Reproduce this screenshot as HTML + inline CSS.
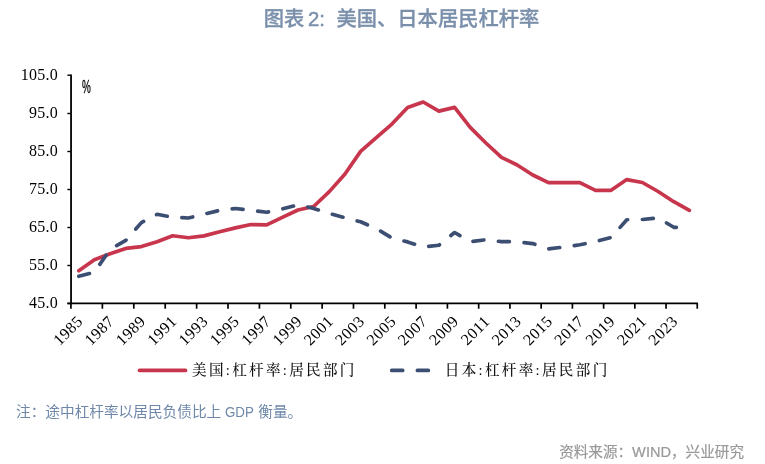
<!DOCTYPE html>
<html lang="zh"><head><meta charset="utf-8"><title>图表 2</title>
<style>
html,body{margin:0;padding:0;background:#fff;}
body{width:765px;height:464px;position:relative;overflow:hidden;font-family:"Liberation Sans","Noto Sans CJK SC",sans-serif;}
#title{position:absolute;left:0;top:5px;width:803px;text-align:center;font-weight:500;font-size:20.3px;line-height:28px;color:#7a8fab;white-space:nowrap;word-spacing:2px;-webkit-text-stroke:0.3px #7a8fab;}
#title .n2{margin-left:-4px;margin-right:4px;-webkit-text-stroke:0.5px #7a8fab;}
#note{position:absolute;left:16px;top:400px;font-size:14.67px;line-height:24px;color:#6f88a9;white-space:nowrap;}
#note .g{display:inline-block;transform:scaleX(0.91);transform-origin:left center;margin-right:-2.86px;}
#src{position:absolute;right:21px;top:439.7px;font-size:14.6px;-webkit-text-stroke:0.2px #999;line-height:24px;color:#999;white-space:nowrap;}
svg{position:absolute;left:0;top:0;}
.ax{font-family:"Liberation Serif",serif;font-size:16px;fill:#000;}
.pct{font-family:"Liberation Sans",sans-serif;font-size:17.5px;fill:#000;stroke:#000;stroke-width:0.3px;}
.lg{font-family:"Liberation Serif","Noto Serif CJK SC",serif;font-size:14.6px;font-weight:500;fill:#111;letter-spacing:2.3px;}
</style></head><body>
<div id="title">图表<span class="n2"> 2:</span> 美国、日本居民杠杆率</div>
<svg width="765" height="464" viewBox="0 0 765 464">
<line x1="71.05" y1="74.4" x2="71.05" y2="304.3" stroke="#000" stroke-width="1.8"/>
<line x1="67.4" y1="303.3" x2="698" y2="303.3" stroke="#000" stroke-width="1.7"/>
<line x1="67.4" y1="75.2" x2="71" y2="75.2" stroke="#000" stroke-width="1.4"/>
<text x="57.9" y="79.9" text-anchor="end" class="ax" letter-spacing="0.25">105.0</text>
<line x1="67.4" y1="113.5" x2="71" y2="113.5" stroke="#000" stroke-width="1.4"/>
<text x="57.9" y="118.2" text-anchor="end" class="ax" letter-spacing="0.25">95.0</text>
<line x1="67.4" y1="151.5" x2="71" y2="151.5" stroke="#000" stroke-width="1.4"/>
<text x="57.9" y="156.2" text-anchor="end" class="ax" letter-spacing="0.25">85.0</text>
<line x1="67.4" y1="189.5" x2="71" y2="189.5" stroke="#000" stroke-width="1.4"/>
<text x="57.9" y="194.2" text-anchor="end" class="ax" letter-spacing="0.25">75.0</text>
<line x1="67.4" y1="227.5" x2="71" y2="227.5" stroke="#000" stroke-width="1.4"/>
<text x="57.9" y="232.2" text-anchor="end" class="ax" letter-spacing="0.25">65.0</text>
<line x1="67.4" y1="265.5" x2="71" y2="265.5" stroke="#000" stroke-width="1.4"/>
<text x="57.9" y="270.2" text-anchor="end" class="ax" letter-spacing="0.25">55.0</text>
<line x1="67.4" y1="303.5" x2="71" y2="303.5" stroke="#000" stroke-width="1.4"/>
<text x="57.9" y="308.2" text-anchor="end" class="ax" letter-spacing="0.25">45.0</text>
<line x1="70.95" y1="303.5" x2="70.95" y2="308.7" stroke="#000" stroke-width="1.7"/>
<line x1="102.37" y1="303.5" x2="102.37" y2="308.7" stroke="#000" stroke-width="1.7"/>
<line x1="133.80" y1="303.5" x2="133.80" y2="308.7" stroke="#000" stroke-width="1.7"/>
<line x1="165.21" y1="303.5" x2="165.21" y2="308.7" stroke="#000" stroke-width="1.7"/>
<line x1="196.62" y1="303.5" x2="196.62" y2="308.7" stroke="#000" stroke-width="1.7"/>
<line x1="228.02" y1="303.5" x2="228.02" y2="308.7" stroke="#000" stroke-width="1.7"/>
<line x1="259.41" y1="303.5" x2="259.41" y2="308.7" stroke="#000" stroke-width="1.7"/>
<line x1="290.78" y1="303.5" x2="290.78" y2="308.7" stroke="#000" stroke-width="1.7"/>
<line x1="322.14" y1="303.5" x2="322.14" y2="308.7" stroke="#000" stroke-width="1.7"/>
<line x1="353.48" y1="303.5" x2="353.48" y2="308.7" stroke="#000" stroke-width="1.7"/>
<line x1="384.80" y1="303.5" x2="384.80" y2="308.7" stroke="#000" stroke-width="1.7"/>
<line x1="416.11" y1="303.5" x2="416.11" y2="308.7" stroke="#000" stroke-width="1.7"/>
<line x1="447.40" y1="303.5" x2="447.40" y2="308.7" stroke="#000" stroke-width="1.7"/>
<line x1="478.67" y1="303.5" x2="478.67" y2="308.7" stroke="#000" stroke-width="1.7"/>
<line x1="509.93" y1="303.5" x2="509.93" y2="308.7" stroke="#000" stroke-width="1.7"/>
<line x1="541.17" y1="303.5" x2="541.17" y2="308.7" stroke="#000" stroke-width="1.7"/>
<line x1="572.40" y1="303.5" x2="572.40" y2="308.7" stroke="#000" stroke-width="1.7"/>
<line x1="603.62" y1="303.5" x2="603.62" y2="308.7" stroke="#000" stroke-width="1.7"/>
<line x1="634.84" y1="303.5" x2="634.84" y2="308.7" stroke="#000" stroke-width="1.7"/>
<line x1="666.04" y1="303.5" x2="666.04" y2="308.7" stroke="#000" stroke-width="1.7"/>
<line x1="697.25" y1="303.5" x2="697.25" y2="308.7" stroke="#000" stroke-width="1.7"/>
<text transform="translate(83.78,322.3) rotate(-45)" text-anchor="end" class="ax" letter-spacing="0.5">1985</text>
<text transform="translate(115.09,322.3) rotate(-45)" text-anchor="end" class="ax" letter-spacing="0.5">1987</text>
<text transform="translate(146.41,322.3) rotate(-45)" text-anchor="end" class="ax" letter-spacing="0.5">1989</text>
<text transform="translate(177.72,322.3) rotate(-45)" text-anchor="end" class="ax" letter-spacing="0.5">1991</text>
<text transform="translate(209.04,322.3) rotate(-45)" text-anchor="end" class="ax" letter-spacing="0.5">1993</text>
<text transform="translate(240.35,322.3) rotate(-45)" text-anchor="end" class="ax" letter-spacing="0.5">1995</text>
<text transform="translate(271.67,322.3) rotate(-45)" text-anchor="end" class="ax" letter-spacing="0.5">1997</text>
<text transform="translate(302.98,322.3) rotate(-45)" text-anchor="end" class="ax" letter-spacing="0.5">1999</text>
<text transform="translate(334.30,322.3) rotate(-45)" text-anchor="end" class="ax" letter-spacing="0.5">2001</text>
<text transform="translate(365.61,322.3) rotate(-45)" text-anchor="end" class="ax" letter-spacing="0.5">2003</text>
<text transform="translate(396.93,322.3) rotate(-45)" text-anchor="end" class="ax" letter-spacing="0.5">2005</text>
<text transform="translate(428.24,322.3) rotate(-45)" text-anchor="end" class="ax" letter-spacing="0.5">2007</text>
<text transform="translate(459.56,322.3) rotate(-45)" text-anchor="end" class="ax" letter-spacing="0.5">2009</text>
<text transform="translate(490.87,322.3) rotate(-45)" text-anchor="end" class="ax" letter-spacing="0.5">2011</text>
<text transform="translate(522.19,322.3) rotate(-45)" text-anchor="end" class="ax" letter-spacing="0.5">2013</text>
<text transform="translate(553.50,322.3) rotate(-45)" text-anchor="end" class="ax" letter-spacing="0.5">2015</text>
<text transform="translate(584.82,322.3) rotate(-45)" text-anchor="end" class="ax" letter-spacing="0.5">2017</text>
<text transform="translate(616.13,322.3) rotate(-45)" text-anchor="end" class="ax" letter-spacing="0.5">2019</text>
<text transform="translate(647.45,322.3) rotate(-45)" text-anchor="end" class="ax" letter-spacing="0.5">2021</text>
<text transform="translate(678.76,322.3) rotate(-45)" text-anchor="end" class="ax" letter-spacing="0.5">2023</text>
<text x="82" y="93" class="pct" textLength="8.8" lengthAdjust="spacingAndGlyphs">%</text>
<polyline points="78.8,270.8 94.4,259.7 110.1,253.7 125.8,248.4 141.4,246.6 157.1,241.7 172.7,235.8 188.4,237.8 204.0,235.9 219.7,231.8 235.4,227.9 251.0,224.5 266.7,224.9 282.3,217.4 298.0,210.0 313.6,206.5 329.3,191.6 345.0,174.0 360.6,151.4 376.3,137.7 391.9,124.1 407.6,107.4 423.2,102.0 438.9,111.1 454.6,107.4 470.2,127.4 485.9,143.0 501.5,157.4 517.2,165.0 532.8,175.0 548.5,182.6 564.2,182.7 579.8,182.7 595.5,190.3 611.1,190.3 626.8,179.6 642.4,182.5 658.1,191.5 673.8,201.7 689.4,210.4" fill="none" stroke="#c7364c" stroke-width="3.67" stroke-linecap="round" stroke-linejoin="round"/>
<polyline points="78.8,276.3 94.4,272.2 110.1,249.4 125.8,240.4 141.4,222.6 157.1,214.3 172.7,217.3 188.4,218.0 204.0,214.1 219.7,210.4 235.4,208.5 251.0,210.3 266.7,212.3 282.3,209.0 298.0,204.8 313.6,208.4 329.3,213.5 345.0,217.8 360.6,221.8 376.3,228.6 391.9,238.0 407.6,241.9 423.2,247.0 438.9,245.2 454.6,232.5 470.2,241.7 485.9,239.7 501.5,241.6 517.2,241.8 532.8,243.6 548.5,248.9 564.2,247.0 579.8,244.8 595.5,241.6 611.1,237.5 626.8,219.8 642.4,219.5 658.1,217.9 673.8,227.3 689.4,228.0" fill="none" stroke="#3c4f73" stroke-width="3.67" stroke-linecap="round" stroke-linejoin="round" stroke-dasharray="11 14.67"/>
<line x1="139.5" y1="370.4" x2="185.5" y2="370.4" stroke="#c7364c" stroke-width="3.67" stroke-linecap="round"/>
<line x1="391.7" y1="370.4" x2="430" y2="370.4" stroke="#3c4f73" stroke-width="3.67" stroke-linecap="round" stroke-dasharray="11 14.67"/>
<text x="192" y="374.8" class="lg">美国:杠杆率:居民部门</text>
<text x="444.8" y="374.8" class="lg">日本:杠杆率:居民部门</text>
</svg>
<div id="note">注：途中杠杆率以居民负债比上 <span class="g">GDP</span> 衡量。</div>
<div id="src">资料来源：WIND，兴业研究</div>
</body></html>
